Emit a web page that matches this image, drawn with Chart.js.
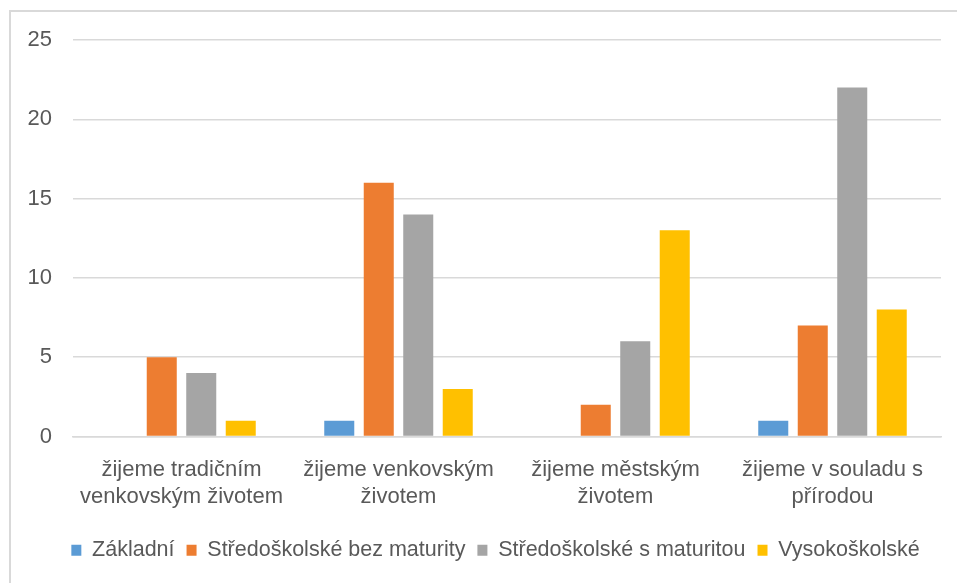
<!DOCTYPE html>
<html><head><meta charset="utf-8">
<script src="https://cdn.jsdelivr.net/npm/chart.js@4/dist/chart.umd.min.js"></script>
<style>
html,body{margin:0;padding:0;background:#fff;width:957px;height:583px;overflow:hidden;}
#frame{position:absolute;left:9px;top:10px;width:980px;height:620px;border:2px solid #d9d9d9;box-sizing:border-box;}
#c{position:absolute;left:0;top:0;}
</style></head>
<body>
<div id="frame"></div>
<canvas id="c" width="957" height="583"></canvas>
<script>
const categories = [
  ["žijeme tradičním","venkovským životem"],
  ["žijeme venkovským","životem"],
  ["žijeme městským","životem"],
  ["žijeme v souladu s","přírodou"]
];
const seriesNames = ["Základní","Středoškolské bez maturity","Středoškolské s maturitou","Vysokoškolské"];
const zakladni = [0, 1, 0, 1];
const ssBezMaturity = [5, 16, 2, 7];
const ssSMaturitou = [4, 14, 6, 22];
const vysokoskolske = [1, 3, 13, 8];
const yTicks = [0, 5, 10, 15, 20, 25];

const colors = ["#5B9BD5","#ED7D31","#A5A5A5","#FFC000"];
const values = [zakladni, ssBezMaturity, ssSMaturitou, vysokoskolske];
const FONT = "'Liberation Sans', Arial, sans-serif";
const TXT = "#595959";

const legendShift = {
  id: 'legendShift',
  afterLayout(chart) { if (chart.legend) { chart.legend.left = 50; } }
};

new Chart(document.getElementById('c'), {
  type: 'bar',
  data: {
    labels: categories,
    datasets: seriesNames.map((n,i)=>({
      label: n, data: values[i], backgroundColor: colors[i], borderWidth: 0,
      categoryPercentage: 0.728, barPercentage: 0.76
    }))
  },
  options: {
    responsive: false, animation: false,
    layout: { padding: { left: 0, right: 16, top: 40, bottom: 12 } },
    scales: {
      x: {
        grid: { display: false, drawTicks: false },
        border: { display: true, color: '#d9d9d9', width: 1.5 },
        ticks: { color: TXT, font: { family: FONT, size: 22, lineHeight: 1.27 }, padding: 19, maxRotation: 0, autoSkip: false },
        afterFit: s => { s.height = 91; }
      },
      y: {
        min: 0, max: 25,
        afterBuildTicks: s => { s.ticks = yTicks.map(v => ({ value: v })); },
        grid: { color: '#d9d9d9', lineWidth: 1.5, drawTicks: false },
        border: { display: false },
        ticks: { color: TXT, font: { family: FONT, size: 22 }, padding: 21 },
        afterFit: s => { s.width = 73; }
      }
    },
    plugins: {
      legend: {
        position: 'bottom',
        labels: { color: TXT, font: { family: FONT, size: 21.5 }, boxWidth: 10, boxHeight: 11, padding: 12 }
      },
      tooltip: { enabled: false }
    }
  },
  plugins: [legendShift]
});
</script>
</body></html>
